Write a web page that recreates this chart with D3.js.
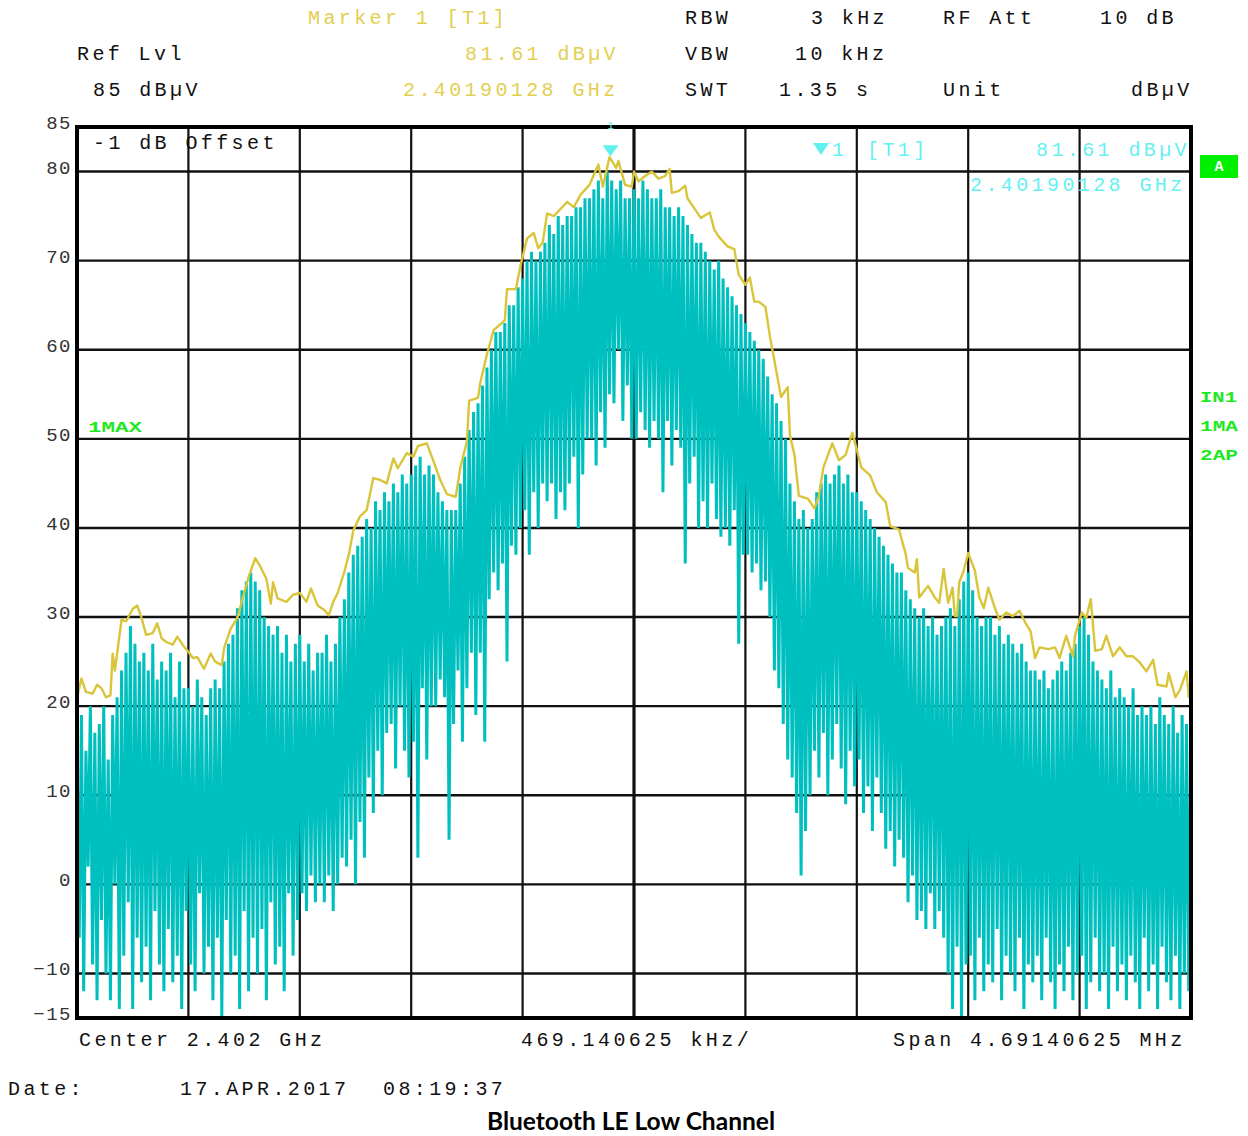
<!DOCTYPE html>
<html>
<head>
<meta charset="utf-8">
<script src="https://cdn.jsdelivr.net/npm/d3@7"></script>
<style>
  html, body { margin: 0; padding: 0; background: #fff; }
  svg text { font-family: "Liberation Mono", "Courier New", monospace; }
</style>
</head>
<body>
<svg id="chart" width="1248" height="1136"></svg>
<script>
// Sweep settings of the analyzer screen
const centerGHz = 2.402;
const spanMHz = 4.69140625;
const sweepPoints = 501;
const levelRange = [-15, 85];           // dBµV, bottom .. reference level
const yTickValues = [85, 80, 70, 60, 50, 40, 30, 20, 10, 0, -10, -15];
const xDivisions = 10;

// Marker 1 (trace 1)
const markerFreqGHz = 2.40190128;
const markerLevel = 81.61;

// Trace 2 (cyan): level per sweep point, dBµV
const trace2 = [
  16,-6,19,-12,15,2,20,-9,17,-13,
  18,-4,20,-10,14,-13,19,0,21,-14,
  24,-8,26,-2,29,-14,27,-6,25,-11,
  26,-7,24,-13,27,-3,23,-9,25,-12,
  24,-5,26,-11,21,-8,25,-14,22,-3,
  22,-9,20,-12,23,-1,21,-10,19,-7,
  22,-13,23,-6,22,-15,25,-4,27,-10,
  28,-8,31,-14,33,-3,34,-12,35,-6,
  34,-10,33,-5,30,-13,29,-2,28,-9,
  29,-7,26,-12,28,-1,25,-8,27,-4,
  28,-1,25,-3,27,1,24,-2,26,0,
  26,-2,28,1,25,-3,27,0,30,3,
  32,2,35,5,37,0,38,7,39,3,
  41,12,40,8,43,15,42,10,44,17,
  43,18,45,13,44,20,46,15,45,12,
  46,16,47,3,48,22,46,14,47,20,
  46,20,44,23,43,21,42,5,42,18,
  42,24,45,16,48,22,51,26,53,19,
  54,26,56,16,58,32,60,35,62,33,
  62,36,63,25,65,38,65,37,67,40,
  68,42,70,37,71,44,70,40,71,45,
  72,43,74,45,73,41,75,44,74,42,
  75,45,75,48,76,40,76,46,77,50,
  77,50,78,47,79,53,77,49,80,55,
  79,54,78,60,79,52,77,56,77,50,
  78,50,77,53,79,51,78,49,77,52,
  77,50,78,44,76,52,76,47,75,51,
  76,49,75,36,74,45,73,48,72,40,
  72,43,71,40,70,45,69,41,70,39,
  68,40,67,38,66,42,65,27,64,37,
  63,37,62,35,61,36,60,33,59,34,
  57,30,55,24,54,22,52,18,50,14,
  45,12,43,8,41,1,42,6,40,10,
  41,15,44,12,45,17,46,10,45,14,
  46,18,47,13,45,9,46,15,44,11,
  44,14,43,8,42,11,41,6,40,12,
  39,8,38,4,37,6,36,2,35,5,
  35,3,33,-2,32,1,31,-4,30,-3,
  31,-5,29,-1,30,-5,28,-3,29,-6,
  30,-10,31,-14,29,-7,32,-15,34,-9,
  35,-8,33,-13,30,-6,29,-12,30,-9,
  30,-11,28,-5,29,-13,27,-8,28,-10,
  27,-12,26,-6,27,-14,25,-9,24,-11,
  24,-8,23,-13,24,-6,22,-11,23,-14,
  24,-9,25,-12,24,-7,26,-13,27,-10,
  29,-8,30,-14,28,-11,25,-6,24,-12,
  23,-10,22,-14,24,-7,21,-12,22,-9,
  21,-13,20,-8,22,-11,19,-14,20,-6,
  19,-12,20,-9,18,-14,21,-7,19,-11,
  18,-13,20,-8,17,-14,19,-10,18,-12,
  18
];

// Trace 1 (yellow, max hold): sweep point index and level, dBµV
const trace1Point = [
  0,2,4,7,9,11,13,15,16,17,20,22,25,27,29,31,34,36,38,40,43,45,48,50,52,54,57,60,62,65,
  66,69,72,75,77,80,82,85,87,88,90,94,97,100,103,105,108,111,113,115,117,120,122,124,127,130,133,136,139,142,
  144,148,151,153,157,160,163,166,170,172,175,176,180,181,184,187,192,193,197,199,202,205,207,209,211,214,217,220,223,226,
  230,234,236,239,242,243,246,249,250,252,255,258,261,264,266,267,270,273,274,277,280,284,286,288,292,295,297,300,302,304,
  306,309,311,313,316,319,320,322,324,328,331,333,335,339,342,345,348,350,352,356,359,363,365,369,372,373,376,377,378,382,
  385,387,389,391,393,394,395,396,398,400,403,405,407,409,412,414,417,420,423,426,428,430,432,436,439,441,444,447,448,451,
  453,455,457,460,462,465,468,471,474,477,480,483,485,489,490,493,495,498,499,500
];
const trace1Level = [
  21,23.1,21.6,21.4,22.4,22,21,21.2,25.9,24,29.7,29.5,30.9,31.3,29.9,28,28.2,29.3,27.6,27.2,26.9,27.8,26.7,26.1,25.4,25.5,24.2,25.9,25,24.6,
  26.5,28.7,29.9,32.7,34.5,36.6,35.8,34.3,31.5,33.9,32.1,31.7,32.5,32.7,31.7,33.2,31.3,30.8,30.2,31.7,32.7,35.1,37,39.7,41.3,42,45.6,45.4,45,47.8,
  46.7,48.4,48,49.2,49.5,47.5,45.4,43.8,43.5,46.7,49.7,54.3,54.6,56.3,59.5,62.2,63.3,66.8,66.8,69.4,72.5,73.1,71.4,72,75.3,75,75.8,76.6,76,77.4,
  78.5,80.8,78.3,81.61,80.4,81.2,78.5,78.3,80,78.9,79.5,80,79.2,79.5,80.3,77.6,77.8,78.4,77,75.9,74.8,75.4,73.5,72.7,71.6,71.3,68.4,67.3,68.1,65.4,
  65.4,64.8,61.5,58.8,54.7,55.8,50.4,48.2,43.6,43.3,42.2,43.6,46.8,49.5,47.6,48.2,50.7,48.8,46.8,45.9,44,42.9,40.2,39.8,37,35.5,35,36.5,32.2,33.5,
  32.2,31.6,35.4,31.6,33.3,30.1,30.1,33.9,35.2,37.2,35.2,32.2,31,33.3,31,29.7,30.5,30.1,30.7,29.2,28.4,25.4,26.6,26.4,26.6,25.4,27.9,25.6,28,30.5,
  29.9,32,26.2,26.4,27.9,25.6,26.6,25.6,25.6,24.9,23.9,25.2,22.4,22.2,23.7,21,21.8,23.9,21,21.3
];

// Instrument readouts
const headerRows = [
  { text: "Marker 1 [T1]", x: 308, y: 24, color: "#e2cf4f" },
  { text: "RBW", x: 685, y: 24, color: "#111" },
  { text: "3 kHz", x: 811, y: 24, color: "#111" },
  { text: "RF Att", x: 943, y: 24, color: "#111" },
  { text: "10 dB", x: 1100, y: 24, color: "#111" },
  { text: "Ref Lvl", x: 77, y: 60, color: "#111" },
  { text: "81.61 dBµV", x: 465, y: 60, color: "#e2cf4f" },
  { text: "VBW", x: 685, y: 60, color: "#111" },
  { text: "10 kHz", x: 795, y: 60, color: "#111" },
  { text: "85 dBµV", x: 93, y: 96, color: "#111" },
  { text: "2.40190128 GHz", x: 403, y: 96, color: "#e2cf4f" },
  { text: "SWT", x: 685, y: 96, color: "#111" },
  { text: "1.35 s", x: 779, y: 96, color: "#111" },
  { text: "Unit", x: 943, y: 96, color: "#111" },
  { text: "dBµV", x: 1131, y: 96, color: "#111" },
  { text: "-1 dB Offset", x: 93, y: 149, color: "#111" },
  { text: "1", x: 832, y: 156, color: "#66f0f0" },
  { text: "[T1]", x: 867, y: 156, color: "#66f0f0" },
  { text: "81.61 dBµV", x: 1036, y: 156, color: "#66f0f0" },
  { text: "2.40190128 GHz", x: 970, y: 191, color: "#66f0f0" },
  { text: "Center 2.402 GHz", x: 79, y: 1046, color: "#111" },
  { text: "469.140625 kHz/", x: 521, y: 1046, color: "#111" },
  { text: "Span 4.69140625 MHz", x: 893, y: 1046, color: "#111" },
  { text: "Date:", x: 8, y: 1095, color: "#111" },
  { text: "17.APR.2017", x: 180, y: 1095, color: "#111" },
  { text: "08:19:37", x: 383, y: 1095, color: "#111" }
];
const sideLabels = [
  { text: "1MAX", x: 88, y: 432, w: 54 },
  { text: "IN1", x: 1200, y: 402, w: 37 },
  { text: "1MA", x: 1200, y: 431, w: 38 },
  { text: "2AP", x: 1200, y: 460, w: 38 }
];
const title = "Bluetooth LE Low Channel";

const spanGHz = spanMHz / 1000;
const startGHz = centerGHz - spanGHz / 2;
const stopGHz = centerGHz + spanGHz / 2;
const pointFreq = i => startGHz + i * spanGHz / (sweepPoints - 1);

const svg = d3.select("#chart");
const plot = { left: 77, right: 1191, top: 127, bottom: 1018 };

const x = d3.scaleLinear().domain([startGHz, stopGHz]).range([plot.left, plot.right]);
const y = d3.scaleLinear().domain(levelRange).range([plot.bottom, plot.top]);

// Graticule
const grid = svg.append("g");
const vTicks = d3.range(xDivisions + 1).map(k => startGHz + k * spanGHz / xDivisions);
grid.selectAll("line.v").data(vTicks.slice(1, -1)).join("line")
  .attr("x1", d => x(d)).attr("x2", d => x(d))
  .attr("y1", plot.top).attr("y2", plot.bottom)
  .attr("stroke", "#111")
  .attr("stroke-width", (d, i) => i === 4 ? 3.2 : 2.2);
grid.selectAll("line.h").data(yTickValues.filter(v => v > levelRange[0] && v < levelRange[1])).join("line")
  .attr("x1", plot.left).attr("x2", plot.right)
  .attr("y1", d => y(d)).attr("y2", d => y(d))
  .attr("stroke", "#111").attr("stroke-width", 2.4);

// Level labels on the left
const yAxis = d3.axisLeft(y).tickValues(yTickValues).tickSize(0).tickPadding(3).tickFormat(d3.format("d"));
const yg = svg.append("g").attr("transform", `translate(${plot.left - 2},0)`).call(yAxis);
yg.select(".domain").remove();
yg.selectAll("text")
  .attr("dy", "0.08em")
  .attr("font-size", 19)
  .attr("letter-spacing", 1.5)
  .attr("fill", "#333")
  .style("font-family", '"Liberation Mono", monospace');

// Traces
const line = d3.line().x(d => x(d.f)).y(d => y(d.v)).curve(d3.curveLinear);
const t2data = trace2.map((v, i) => ({ f: pointFreq(i), v }));
const t1data = trace1Point.map((p, i) => ({ f: pointFreq(p), v: trace1Level[i] }));

svg.append("path").datum(t2data)
  .attr("d", line).attr("fill", "none")
  .attr("stroke", "#00bfbf").attr("stroke-width", 3)
  .attr("stroke-linejoin", "bevel");
svg.append("path").datum(t1data)
  .attr("d", line).attr("fill", "none")
  .attr("stroke", "#d8c53a").attr("stroke-width", 2.4)
  .attr("stroke-linejoin", "round");

// Frame
svg.append("rect")
  .attr("x", plot.left).attr("y", plot.top)
  .attr("width", plot.right - plot.left).attr("height", plot.bottom - plot.top)
  .attr("fill", "none").attr("stroke", "#000").attr("stroke-width", 4);

// Marker 1
const mx = x(markerFreqGHz), my = y(markerLevel);
svg.append("path")
  .attr("d", `M${mx - 8},${my - 12}L${mx + 8},${my - 12}L${mx},${my - 1}Z`)
  .attr("fill", "#5ff0f0");
svg.append("text").attr("x", mx).attr("y", 129).attr("text-anchor", "middle")
  .attr("font-size", 11).attr("fill", "#66f0f0").text("1");
// Marker symbol in the readout
svg.append("path")
  .attr("d", "M813,143L829,143L821,155Z").attr("fill", "#5ff0f0");

// Readout texts
svg.append("g").selectAll("text").data(headerRows).join("text")
  .attr("x", d => d.x).attr("y", d => d.y)
  .attr("fill", d => d.color)
  .attr("font-size", 20).attr("letter-spacing", 3.4)
  .text(d => d.text);

// Status labels
svg.append("g").selectAll("text").data(sideLabels).join("text")
  .attr("x", d => d.x).attr("y", d => d.y)
  .attr("fill", "#1ee81e").attr("font-weight", "bold")
  .attr("font-size", 15)
  .attr("textLength", d => d.w).attr("lengthAdjust", "spacingAndGlyphs")
  .style("font-family", '"Liberation Mono", "Courier New", monospace')
  .text(d => d.text);

svg.append("rect").attr("x", 1200).attr("y", 155).attr("width", 38).attr("height", 23).attr("fill", "#00f000");
svg.append("text").attr("x", 1219).attr("y", 171).attr("text-anchor", "middle")
  .attr("fill", "#fff").attr("font-weight", "bold").attr("font-size", 15).text("A");

// Caption
svg.append("text").attr("x", 631).attr("y", 1130).attr("text-anchor", "middle")
  .attr("font-size", 25).attr("font-weight", "bold").attr("fill", "#000")
  .attr("textLength", 288).attr("lengthAdjust", "spacingAndGlyphs")
  .style("font-family", 'Lato, "Open Sans", sans-serif')
  .text(title);
</script>
</body>
</html>
